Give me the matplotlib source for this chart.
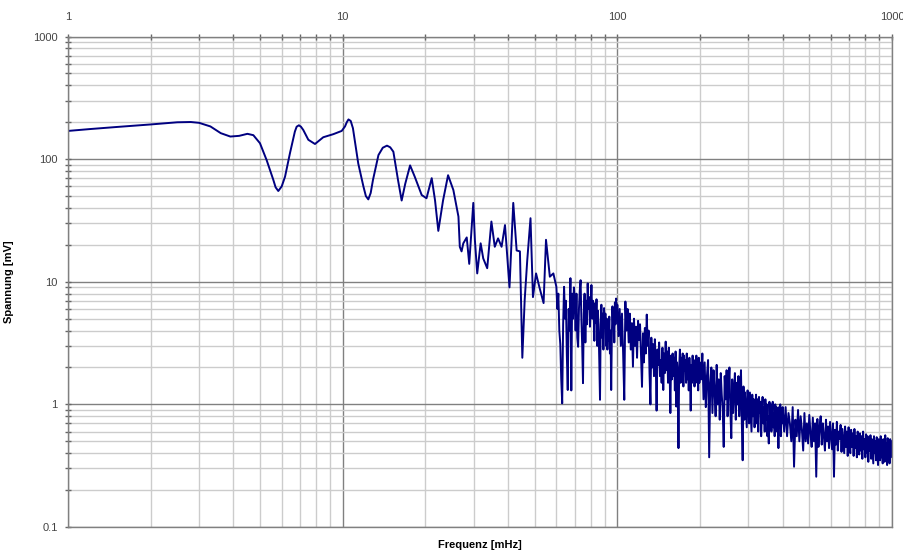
import numpy as np
from matplotlib import pyplot as plt

plt.rcParams['font.family'] = ['Liberation Sans', 'DejaVu Sans']

# spectrum: frequency in mHz, voltage in mV
# smooth part 1..59 mHz
freq_low = [1.0, 1.2, 1.5, 2.0, 2.5, 2.8, 3.0, 3.3, 3.6, 3.9,
            4.2, 4.5, 4.73, 5.0, 5.29, 5.59, 5.7, 5.83, 6.0, 6.17,
            6.43, 6.70, 6.8, 6.93, 7.05, 7.19, 7.50, 7.93, 8.50, 9.25,
            9.92, 10.2, 10.35, 10.5, 10.7, 10.9, 11.4, 11.9, 12.15, 12.4,
            12.65, 12.9, 13.5, 14.0, 14.5, 14.9, 15.3, 15.9, 16.4, 16.9,
            17.6, 18.3, 19.4, 20.2, 21.1, 21.7, 22.3, 23.2, 24.2, 25.3,
            26.4, 26.7, 27.1, 27.5, 28.3, 28.9, 29.9, 30.3, 30.9, 31.8,
            32.5, 33.6, 34.8, 35.8, 36.8, 37.9, 39.0, 40.5, 41.8, 43.0,
            44.2, 45.1, 46.0, 47.0, 48.3, 49.3, 50.6, 52.0, 53.9, 55.0,
            56.8, 58.5]
volt_low = [170, 176, 183, 192, 200, 201, 198, 185, 163, 153,
            155, 161, 157, 135, 98, 68, 59, 55, 60, 72,
            112, 168, 184, 189, 184, 173, 144, 133, 151, 160,
            170, 185, 200, 211, 205, 179, 92, 60, 50, 47,
            53, 68, 108, 124, 129, 125, 115, 68, 46, 63,
            89, 72, 51, 48, 70, 46, 26, 46, 74, 56,
            34, 19.3, 17.7, 20.6, 23, 14, 44, 22, 11.7, 20.6,
            15.5, 12.9, 31, 19.3, 22.6, 19.3, 29, 9, 44, 18,
            17.7, 2.4, 7.1, 15, 33, 7.5, 11.7, 9.1, 6.7, 22,
            11, 11.7]

# noisy part 60..100 mHz
freq_mid = [60.0, 60.5, 61.0, 61.5, 62.0, 62.5, 63.0, 63.5, 64.0, 64.5,
            65.0, 65.5, 66.0, 66.5, 67.0, 67.5, 68.0, 68.5, 69.0, 69.5,
            70.0, 70.5, 71.0, 71.5, 72.0, 72.5, 73.0, 73.5, 74.0, 74.5,
            75.0, 75.5, 76.0, 76.5, 77.0, 77.5, 78.0, 78.5, 79.0, 79.5,
            80.0, 80.5, 81.0, 81.5, 82.0, 82.5, 83.0, 83.5, 84.0, 84.5,
            85.0, 85.5, 86.0, 86.5, 87.0, 87.5, 88.0, 88.5, 89.0, 89.5,
            90.0, 90.5, 91.0, 91.5, 92.0, 92.5, 93.0, 93.5, 94.0, 94.5,
            95.0, 95.5, 96.0, 96.5, 97.0, 97.5, 98.0, 98.5, 99.0, 99.5,
            100.0]
volt_mid = [9.1, 6, 8, 4, 3.1, 1.6, 1.02, 4.5, 9.1, 5,
            7, 2.5, 1.31, 6, 4, 10.7, 1.3, 8, 5, 9,
            7.1, 4, 8, 3.5, 2.95, 6, 8.5, 10.3, 5, 3,
            1.49, 5.5, 8, 3.2, 7, 4.5, 9.7, 6, 7.5, 4.3,
            6.5, 9.4, 5, 7, 5.9, 3.3, 6.7, 4.6, 7.2, 3,
            5.8, 4, 2.2, 1.09, 4.5, 6.5, 3.5, 5.5, 2.8, 6.1,
            4.2, 5.5, 3, 5, 2.8, 4.8, 3.3, 5.2, 2.6, 4,
            1.31, 3.5, 6.3, 4.4, 5.8, 3.2, 6.8, 4.5, 7.3, 5,
            6.5]

# 101..200 mHz
freq_b = [101, 102, 103, 104, 105, 106, 107, 108, 109, 110,
          111, 112, 113, 114, 115, 116, 117, 118, 119, 120,
          121, 122, 123, 124, 125, 126, 127, 128, 129, 130,
          131, 132, 133, 134, 135, 136, 137, 138, 139, 140,
          141, 142, 143, 144, 145, 146, 147, 148, 149, 150,
          151, 152, 153, 154, 155, 156, 157, 158, 159, 160,
          161, 162, 163, 164, 165, 166, 167, 168, 169, 170,
          171, 172, 173, 174, 175, 176, 177, 178, 179, 180,
          181, 182, 183, 184, 185, 186, 187, 188, 189, 190,
          191, 192, 193, 194, 195, 196, 197, 198, 199, 200]
volt_b = [3.6, 6, 3, 5.5, 2.6, 1.09, 6.9, 4, 6, 3.2,
          5.5, 2.8, 4.6, 2.03, 5, 3, 4.3, 2.4, 4.8, 3.35,
          4.5, 2.5, 1.39, 3.8, 2.2, 4.2, 2.6, 5.4, 3, 4,
          1.8, 1.0, 3.5, 2, 3.1, 1.7, 3.4, 2.2, 0.89, 2.8,
          2.1, 3.2, 1.7, 2.3, 1.5, 2.9, 1.31, 2.6, 1.8, 3.25,
          1.9, 2.7, 1.5, 2.9, 2.0, 0.85, 2.5, 1.6, 2.6, 1.7,
          2.4, 1.3, 2.7, 0.96, 2.2, 1.6, 0.44, 2.0, 2.8, 1.5,
          2.4, 1.7, 2.6, 1.4, 2.5, 1.9, 2.3, 1.5, 2.6, 1.6,
          2.2, 1.3, 2.4, 1.7, 0.89, 2.1, 1.5, 2.5, 1.6, 2.3,
          1.4, 2.2, 1.5, 2.5, 1.6, 2.1, 1.3, 2.4, 1.5, 2.2]

# 202..400 mHz
freq_c = [202, 204, 206, 208, 210, 212, 214, 216, 218, 220,
          222, 224, 226, 228, 230, 232, 234, 236, 238, 240,
          242, 244, 246, 248, 250, 252, 254, 256, 258, 260,
          262, 264, 266, 268, 270, 272, 274, 276, 278, 280,
          282, 284, 286, 288, 290, 292, 294, 296, 298, 300,
          302, 304, 306, 308, 310, 312, 314, 316, 318, 320,
          322, 324, 326, 328, 330, 332, 334, 336, 338, 340,
          342, 344, 346, 348, 350, 352, 354, 356, 358, 360,
          362, 364, 366, 368, 370, 372, 374, 376, 378, 380,
          382, 384, 386, 388, 390, 392, 394, 396, 398, 400]
volt_c = [1.6, 2.6, 1.1, 2.2, 0.95, 1.7, 2.3, 0.37, 1.5, 2.0,
          0.85, 1.9, 1.3, 0.8, 2.1, 1.0, 1.6, 0.75, 1.8, 1.2,
          0.9, 0.45, 1.7, 1.1, 1.9, 0.8, 1.4, 2.0, 0.9, 0.53,
          1.6, 0.85, 1.3, 1.8, 0.75, 1.5, 1.0, 1.7, 0.8, 1.2,
          1.9, 0.7, 0.35, 1.4, 0.75, 1.25, 0.9, 0.65, 1.3, 1.1,
          0.7, 1.25, 0.85, 0.6, 1.2, 0.8, 1.1, 0.65, 0.95, 1.2,
          0.7, 1.1, 0.6, 1.15, 0.85, 1.05, 0.55, 0.9, 1.15, 0.7,
          0.95, 0.6, 1.1, 0.75, 1.0, 0.55, 0.8, 0.48, 1.05, 0.7,
          1.0, 0.6, 0.9, 1.05, 0.65, 0.85, 0.55, 1.0, 0.7, 0.95,
          0.6, 0.85, 0.44, 0.95, 0.65, 1.0, 0.55, 0.9, 0.7, 0.95]

# 405..1000 mHz
freq_d = [405, 410, 415, 420, 425, 430, 435, 440, 445, 450,
          455, 460, 465, 470, 475, 480, 485, 490, 495, 500,
          505, 510, 515, 520, 525, 530, 535, 540, 545, 550,
          555, 560, 565, 570, 575, 580, 585, 590, 595, 600,
          605, 610, 615, 620, 625, 630, 635, 640, 645, 650,
          655, 660, 665, 670, 675, 680, 685, 690, 695, 700,
          705, 710, 715, 720, 725, 730, 735, 740, 745, 750,
          755, 760, 765, 770, 775, 780, 785, 790, 795, 800,
          805, 810, 815, 820, 825, 830, 835, 840, 845, 850,
          855, 860, 865, 870, 875, 880, 885, 890, 895, 900,
          905, 910, 915, 920, 925, 930, 935, 940, 945, 950,
          955, 960, 965, 970, 975, 980, 985, 990, 995, 1000]
volt_d = [0.6, 0.95, 0.55, 0.85, 0.7, 0.5, 0.95, 0.31, 0.75, 0.55,
          0.9, 0.5, 0.8, 0.62, 0.42, 0.85, 0.5, 0.7, 0.48, 0.82,
          0.58, 0.45, 0.78, 0.5, 0.7, 0.257, 0.76, 0.45, 0.65, 0.8,
          0.47, 0.7, 0.55, 0.42, 0.75, 0.5, 0.66, 0.44, 0.72, 0.55,
          0.43, 0.7, 0.257, 0.62, 0.47, 0.72, 0.42, 0.6, 0.52, 0.68,
          0.41, 0.63, 0.5, 0.4, 0.66, 0.45, 0.6, 0.38, 0.65, 0.5,
          0.4, 0.62, 0.45, 0.58, 0.38, 0.63, 0.44, 0.55, 0.37, 0.6,
          0.46, 0.39, 0.58, 0.42, 0.55, 0.36, 0.6, 0.43, 0.52, 0.37,
          0.57, 0.4, 0.55, 0.34, 0.5, 0.42, 0.56, 0.36, 0.52, 0.41,
          0.33, 0.55, 0.4, 0.5, 0.35, 0.54, 0.38, 0.32, 0.52, 0.42,
          0.35, 0.55, 0.37, 0.5, 0.33, 0.52, 0.4, 0.34, 0.56, 0.36,
          0.48, 0.32, 0.53, 0.38, 0.45, 0.33, 0.52, 0.37, 0.5, 0.42]

x_ticks = [1, 10, 100, 1000]
x_ticklabels = ['1', '10', '100', '1000']
y_ticks = [0.1, 1, 10, 100, 1000]
y_ticklabels = ['0.1', '1', '10', '100', '1000']

freq = np.concatenate([freq_low, freq_mid, freq_b, freq_c, freq_d])
volt = np.concatenate([volt_low, volt_mid, volt_b, volt_c, volt_d])

fig = plt.figure(figsize=(9.04, 5.56), dpi=100)
ax = fig.add_axes([0.0752, 0.0522, 0.9115, 0.882])

ax.plot(freq, volt, color='#000080', lw=1.4)

ax.set_xscale('log')
ax.set_yscale('log')
ax.set_xlim(1, 1000)
ax.set_ylim(0.1, 1000)

ax.set_xticks(x_ticks)
ax.set_xticklabels(x_ticklabels)
ax.set_yticks(y_ticks)
ax.set_yticklabels(y_ticklabels)

# grid: decades darker, 2..9 lighter
ax.set_axisbelow(True)
ax.grid(which='major', color='#808080', lw=1.0)
ax.grid(which='minor', color='#cccccc', lw=1.0)

ax.xaxis.set_ticks_position('top')
ax.xaxis.set_label_position('bottom')
ax.tick_params(axis='x', which='both', direction='inout', colors='#666666',
               labelcolor='#444444', labelsize=8, pad=8)
ax.tick_params(axis='y', which='both', direction='inout', colors='#666666',
               labelcolor='#444444', labelsize=8, pad=5)
ax.tick_params(which='major', length=5, width=1)
ax.tick_params(which='minor', length=4, width=1)

for s in ax.spines.values():
    s.set_color('#808080')
    s.set_linewidth(1.0)

ax.set_xlabel('Frequenz [mHz]', fontsize=8, fontweight='bold')
ax.xaxis.set_label_coords(0.5, -0.027)
ax.set_ylabel('Spannung [mV]', fontsize=8, fontweight='bold')
ax.yaxis.set_label_coords(-0.066, 0.5)

fig.savefig('out.png', dpi=100)
